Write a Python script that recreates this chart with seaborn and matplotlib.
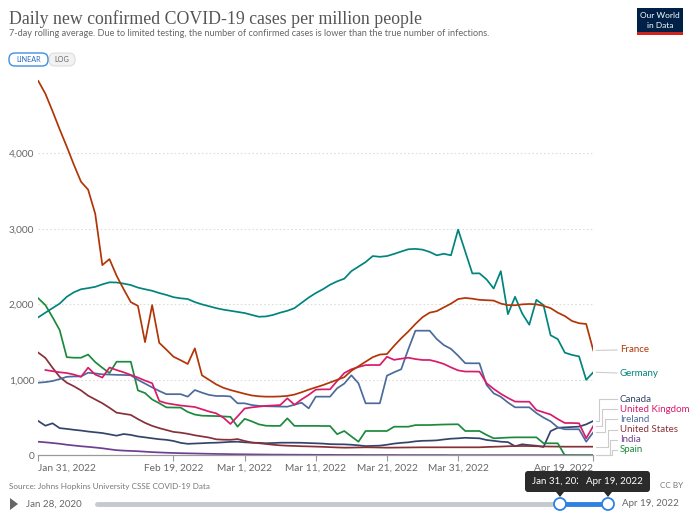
import matplotlib
matplotlib.use('Agg')
import matplotlib.pyplot as plt
import matplotlib.transforms as mtransforms
from matplotlib.patches import FancyBboxPatch, Circle, Polygon, Rectangle
import numpy as np
import pandas as pd
import seaborn as sns

# --- data (7-day rolling average, cases per million) ---
dates = pd.date_range('2022-01-31', '2022-04-19', freq='D')

france = [4960, 4790, 4560, 4320, 4090, 3850, 3625, 3520, 3200, 2520,
          2600, 2380, 2200, 2030, 1980, 1500, 1990, 1490, 1400, 1306,
          1260, 1210, 1417, 1060, 1000, 940, 895, 865, 840, 815,
          793, 782, 777, 777, 780, 787, 805, 835, 870, 900,
          930, 965, 1000, 1035, 1120, 1180, 1240, 1300, 1335, 1342,
          1450, 1550, 1640, 1740, 1830, 1890, 1910, 1960, 2010, 2070,
          2085, 2075, 2060, 2055, 2050, 2010, 1990, 1988, 2000, 2005,
          2000, 1980, 1950, 1890, 1845, 1780, 1750, 1740, 1390]
germany = [1829, 1890, 1950, 2010, 2100, 2160, 2200, 2215, 2232, 2265,
           2292, 2290, 2275, 2256, 2222, 2200, 2180, 2150, 2125, 2095,
           2080, 2071, 2030, 2000, 1975, 1950, 1930, 1915, 1900, 1885,
           1860, 1836, 1840, 1860, 1890, 1915, 1950, 2020, 2090, 2150,
           2200, 2260, 2305, 2340, 2440, 2500, 2560, 2640, 2630, 2640,
           2668, 2700, 2730, 2735, 2725, 2695, 2650, 2670, 2650, 2990,
           2700, 2410, 2411, 2330, 2210, 2440, 1870, 2100, 1880, 1730,
           2060, 1990, 1590, 1540, 1360, 1330, 1310, 1000, 1100]
spain = [2080, 1990, 1830, 1660, 1300, 1293, 1293, 1335, 1235, 1160,
         1090, 1240, 1240, 1240, 860, 825, 740, 690, 635, 633,
         632, 575, 540, 525, 522, 520, 515, 510, 380, 483,
         450, 410, 392, 390, 390, 490, 390, 390, 390, 390,
         388, 388, 280, 322, 250, 180, 322, 322, 322, 322,
         379, 379, 379, 400, 401, 401, 405, 408, 410, 411,
         322, 322, 322, 270, 225, 230, 235, 238, 238, 238,
         238, 160, 159, 159, 0, 0, 0, 0, 0]
uk = [np.nan, 1130, 1115, 1100, 1090, 1070, 1040, 1161, 1070, 1030,
      1163, 1130, 1100, 1065, 1030, 990, 955, 720, 690, 675,
      660, 650, 640, 610, 580, 556, 500, 415, 515, 620,
      635, 645, 655, 660, 666, 755, 670, 740, 800, 870,
      874, 874, 985, 1090, 1140, 1170, 1195, 1196, 1196, 1306,
      1265, 1280, 1293, 1275, 1263, 1263, 1240, 1210, 1165, 1125,
      1110, 1110, 1108, 955, 880, 815, 760, 712, 710, 710,
      600, 570, 540, 480, 428, 428, 424, 225, 388]
ireland = [962, 970, 984, 1010, 1040, 1045, 1045, 1094, 1085, 1073,
           1070, 1066, 1064, 1060, 1000, 950, 900, 852, 810, 810,
           810, 777, 865, 830, 800, 786, 786, 780, 689, 689,
           666, 655, 650, 648, 646, 644, 670, 697, 622, 777,
           777, 777, 888, 950, 1060, 954, 689, 689, 689, 1055,
           1100, 1140, 1405, 1651, 1651, 1651, 1540, 1460, 1410, 1320,
           1220, 1219, 1219, 932, 821, 775, 700, 636, 636, 636,
           560, 500, 450, 370, 345, 345, 345, 180, 305]
us = [1360, 1290, 1160, 1040, 962, 915, 860, 790, 740, 690,
      630, 565, 550, 535, 480, 430, 390, 360, 335, 310,
      300, 285, 265, 250, 235, 212, 207, 205, 215, 190,
      170, 160, 150, 140, 132, 127, 124, 120, 118, 115,
      112, 108, 104, 101, 102, 104, 106, 105, 103, 101,
      102, 103, 104, 105, 106, 106, 106, 106, 106, 106,
      106, 106, 106, 110, 113, 116, 120, 123, 123, 123,
      120, 118, 116, 115, 114, 114, 114, 114, 114]
canada = [454, 392, 424, 360, 350, 338, 328, 315, 305, 295,
          278, 260, 282, 270, 250, 238, 225, 213, 205, 190,
          165, 152, 156, 160, 165, 167, 172, 178, 180, 172,
          167, 165, 160, 163, 167, 167, 167, 166, 162, 159,
          155, 148, 146, 145, 140, 132, 122, 125, 128, 140,
          155, 165, 172, 185, 192, 194, 198, 210, 220, 225,
          232, 228, 225, 203, 192, 180, 175, 120, 146, 135,
          127, 110, 320, 365, 370, 375, 380, 410, 455]
india = [180, 172, 163, 153, 140, 130, 120, 112, 103, 93,
         80, 68, 62, 58, 54, 48, 42, 38, 34, 31,
         28, 26, 24, 22, 20, 18, 17, 15, 14, 13,
         12, 11, 10, 9, 9, 8, 8, 7, 7, 6,
         6, 6, 5, 5, 5, 5, 4, 4, 4, 4,
         4, 3, 3, 3, 3, 3, 3, 3, 2, 2,
         2, 2, 2, 2, 2, 2, 2, 2, 2, 2,
         2, 2, 2, 2, 2, 1, 1, 1, 1]

countries = ['India', 'Canada', 'United States', 'Spain', 'Ireland',
             'United Kingdom', 'Germany', 'France']
series = {'France': france, 'Germany': germany, 'Spain': spain,
          'United Kingdom': uk, 'Ireland': ireland, 'United States': us,
          'Canada': canada, 'India': india}
colors = {'France': '#B13507', 'Germany': '#00847E', 'Spain': '#1B8A3C',
          'United Kingdom': '#D81B6A', 'Ireland': '#4C6A9C',
          'United States': '#883039', 'Canada': '#34446A', 'India': '#6D3E91'}

yticks = [0, 1000, 2000, 3000, 4000]
xtick_dates = ['2022-01-31', '2022-02-19', '2022-03-01', '2022-03-11',
               '2022-03-21', '2022-03-31', '2022-04-19']
xtick_labels = ['Jan 31, 2022', 'Feb 19, 2022', 'Mar 1, 2022', 'Mar 11, 2022',
                'Mar 21, 2022', 'Mar 31, 2022', 'Apr 19, 2022']

# label placement on the right (pixel y, connector bend x in px)
label_pos = {'France': (350, None), 'Germany': (373, None),
             'Canada': (399, 599), 'United Kingdom': (409, 602),
             'Ireland': (419, 605), 'United States': (430, 608),
             'India': (440, 610), 'Spain': (450, 612)}

df = pd.concat([pd.DataFrame({'date': dates, 'value': series[c], 'country': c})
                for c in countries], ignore_index=True)

W, H = 690, 514
plt.rcParams['font.family'] = ['Lato', 'DejaVu Sans']
fig = plt.figure(figsize=(W / 100, H / 100), dpi=100)
px = mtransforms.Affine2D().scale(1 / W, -1 / H).translate(0, 1) + fig.transFigure

x0, x1, y0 = 38.3, 593.3, 455.3
ymax = 5000
ytop = y0 - ymax / 13.25
ax = fig.add_axes([x0 / W, 1 - y0 / H, (x1 - x0) / W, (y0 - ytop) / H])

sns.lineplot(data=df, x='date', y='value', hue='country', palette=colors,
             hue_order=countries, linewidth=1.25, legend=False, ax=ax)

ax.set_xlim(dates[0], dates[-1])
ax.set_ylim(0, ymax)
ax.set_xlabel('')
ax.set_ylabel('')
for s in ['top', 'right', 'left']:
    ax.spines[s].set_visible(False)
ax.spines['bottom'].set_color('#999999')
ax.spines['bottom'].set_linewidth(0.9)

ax.set_yticks(yticks)
ax.set_yticklabels([f'{v:,}' for v in yticks])
ax.tick_params(axis='y', length=0, pad=3, labelsize=7.3, labelcolor='#666666')
for v in yticks[1:]:
    ax.axhline(v, color='#dddddd', linestyle=(0, (1.5, 2)), linewidth=0.8, zorder=0)

ax.set_xticks(pd.to_datetime(xtick_dates))
ax.set_xticklabels(xtick_labels)
ax.tick_params(axis='x', length=4, width=0.8, color='#999999', pad=2,
               labelsize=7.3, labelcolor='#666666')
tl = ax.get_xticklabels()
tl[0].set_horizontalalignment('left')
tl[-1].set_horizontalalignment('right')

# right-hand labels with connectors
last = dates[-1]
for c, (ly, bend) in label_pos.items():
    end_val = series[c][-1]
    ly_val = (y0 - ly) * 13.25
    d_start = last + pd.Timedelta(hours=10)
    d_end = last + pd.Timedelta(days=(617 - x1) / 7.11)
    if bend is None:
        xs = [d_start, d_end]
        ys = [end_val, ly_val]
    else:
        d_bend = last + pd.Timedelta(days=(bend - x1) / 7.11)
        xs = [d_start, d_bend, d_bend, d_end]
        ys = [end_val, end_val, ly_val, ly_val]
    ax.plot(xs, ys, color='#cccccc', linewidth=0.8, clip_on=False)
    fig.text(620, ly, c, transform=px, fontsize=7, color=colors[c],
             va='center', ha='left')

# header
fig.text(9, 19, 'Daily new confirmed COVID-19 cases per million people',
         transform=px, family='Liberation Serif', fontsize=12.8,
         color='#555555', va='center')
fig.text(9, 34, '7-day rolling average. Due to limited testing, the number of '
         'confirmed cases is lower than the true number of infections.',
         transform=px, fontsize=6.6, color='#666666', va='center')

# linear / log toggle
fig.add_artist(FancyBboxPatch((49, 53), 26, 13, boxstyle='round,pad=0,rounding_size=6',
                              transform=px, facecolor='#f2f2f2', edgecolor='#dddddd',
                              linewidth=0.8))
fig.add_artist(FancyBboxPatch((9, 53), 39, 13, boxstyle='round,pad=0,rounding_size=6',
                              transform=px, facecolor='white', edgecolor='#3f8ee0',
                              linewidth=1.0))
fig.text(28.5, 60, 'LINEAR', transform=px, fontsize=5.2, color='#2e6cc0',
         ha='center', va='center')
fig.text(62, 60, 'LOG', transform=px, fontsize=5.2, color='#666666',
         ha='center', va='center')

# logo
fig.add_artist(Rectangle((637, 8), 46, 24, transform=px, facecolor='#002147',
                         edgecolor='none'))
fig.add_artist(Rectangle((637, 32), 46, 3, transform=px, facecolor='#ce261e',
                         edgecolor='none'))
fig.text(660, 15, 'Our World', transform=px, fontsize=6, color='white',
         ha='center', va='center')
fig.text(660, 25, 'in Data', transform=px, fontsize=6, color='white',
         ha='center', va='center')

# footer
fig.text(9, 486, 'Source: Johns Hopkins University CSSE COVID-19 Data',
         transform=px, fontsize=5.9, color='#777777', va='center')
fig.text(683, 486, 'CC BY', transform=px, fontsize=5.9, color='#777777',
         va='center', ha='right')

# timeline
fig.add_artist(Polygon([(10, 498), (10, 510), (18, 504)], closed=True,
                       transform=px, facecolor='#666666', edgecolor='none'))
fig.text(26, 504, 'Jan 28, 2020', transform=px, fontsize=7, color='#666666',
         va='center')
fig.add_artist(plt.Line2D([97, 560], [504, 504], transform=px, color='#c5c9d0',
                          linewidth=3.5, solid_capstyle='round'))
fig.add_artist(plt.Line2D([560, 608], [504, 504], transform=px, color='#2f80e0',
                          linewidth=3.5))
for cx in [560, 608]:
    fig.add_artist(Circle((cx, 504), 6, transform=px, facecolor='white',
                          edgecolor='#2f80e0', linewidth=1.3, zorder=5))
fig.text(622, 504, 'Apr 19, 2022', transform=px, fontsize=7, color='#666666',
         va='center')

for cx, bx, bw, txt, z in [(560, 525, 58, 'Jan 31, 2022', 6), (608, 578, 72, 'Apr 19, 2022', 8)]:
    fig.add_artist(FancyBboxPatch((bx, 471), bw, 21, boxstyle='round,pad=0,rounding_size=3',
                                  transform=px, facecolor='#2b2b2b', edgecolor='none',
                                  zorder=z))
    fig.add_artist(Polygon([(cx - 4, 492), (cx + 4, 492), (cx, 497)], closed=True,
                           transform=px, facecolor='#2b2b2b', edgecolor='none', zorder=z))
    fig.text(cx if z == 6 else bx + bw / 2, 481.5, txt, transform=px, fontsize=7,
             color='white', ha='center', va='center', zorder=z + 1)

fig.savefig('out.png', dpi=100)
